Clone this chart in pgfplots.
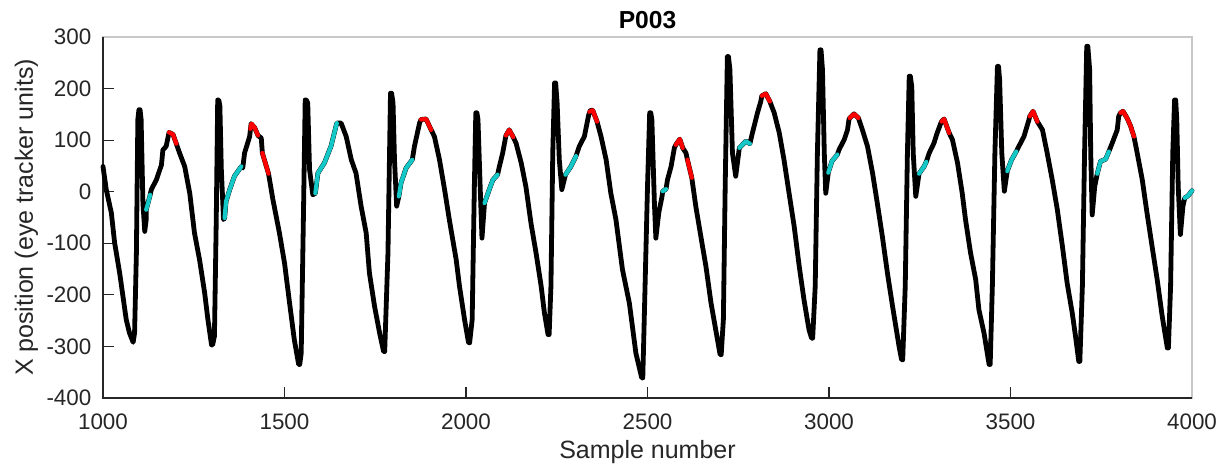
\documentclass[border=0pt]{standalone}
\usepackage{pgfplots}
\pgfplotsset{compat=1.18}
\usepackage{fontspec}
\setmainfont{Liberation Sans}
\definecolor{axdark}{RGB}{38,38,38}
\definecolor{axlight}{RGB}{200,200,200}
\definecolor{mcyan}{RGB}{20,200,200}
\definecolor{mred}{RGB}{255,0,0}
\begin{document}
\begin{tikzpicture}
\begin{axis}[
  scale only axis, width=544.5pt, height=180.5pt,
  xmin=1000, xmax=4000, ymin=-400, ymax=300,
  xtick={1000,1500,...,4000}, ytick={-400,-300,...,300},
  tick pos=left, tick align=inside, major tick length=5.5pt,
  tick style={color=axdark, line width=0.6pt},
  axis line style={draw=axlight, line width=0.6pt},
  scaled ticks=false,
  /pgf/number format/assume math mode=true,
  /pgf/number format/1000 sep={},
  xticklabel style={font=\fontsize{11.2}{13}\selectfont, text=axdark, anchor=base, yshift=-16pt},
  yticklabel style={font=\fontsize{11.2}{13}\selectfont, text=axdark, xshift=-2.3pt},
  xlabel={Sample number}, ylabel={X position (eye tracker units)},
  xlabel style={font=\fontsize{12.5}{14}\selectfont, text=axdark, at={(axis description cs:0.5,-0.1679)}, anchor=base},
  ylabel style={font=\fontsize{12.5}{14}\selectfont, text=axdark, at={(axis description cs:-0.0643,0.5)}, anchor=base},
  title={P003},
  every axis title shift=0pt,
  title style={font=\fontsize{12.3}{14}\selectfont\bfseries, at={(axis description cs:0.5,1.0222)}, anchor=base, yshift=0pt},
  clip=false, unbounded coords=jump,
]
\coordinate (sw) at (rel axis cs:0,0);
\coordinate (ne) at (rel axis cs:1,1);
\draw[axdark, line width=0.6pt] (rel axis cs:0,1) -- (rel axis cs:0,0) -- (rel axis cs:1,0);
\addplot[black, line width=2.4pt, line join=round, line cap=round] coordinates {
(1000,49) (1009,4) (1023,-41) (1032,-99) (1046,-158) (1055,-203) (1064,-248) (1073,-274) (1083,-292) (1087,-274)
(1092,-119) (1096,140) (1099,159) (1102,159) (1105,140) (1110,-22) (1115,-77) (1119,-54) (1119,-35) (1130,-6)
(1133,4) (1147,23) (1161,52) (1165,81) (1174,88) (1182,115) (1193,111) (1202,93) (1211,75) (1225,49)
(1239,-3) (1252,-80) (1266,-132) (1280,-196) (1289,-248) (1299,-297) (1302,-297) (1307,-280) (1312,-54) (1316,178) (1319,178)
(1322,166) (1326,43) (1332,-54) (1335,-51) (1339,-19) (1349,4) (1362,30) (1381,49) (1385,46) (1390,75)
(1404,107) (1408,132) (1418,124) (1427,109) (1436,104) (1439,75) (1456,35) (1468,-15) (1486,-80) (1500,-138)
(1514,-216) (1527,-287) (1539,-335) (1542,-335) (1546,-313) (1552,-54) (1557,178) (1560,178) (1564,172) (1569,43) (1578,-6)
(1585,-3) (1592,36) (1610,56) (1628,88) (1644,133) (1656,133) (1670,107) (1684,62) (1697,36) (1711,-28)
(1725,-80) (1734,-158) (1748,-222) (1762,-274) (1773,-310) (1776,-310) (1785,-119) (1792,191) (1795,191) (1799,172) (1803,62)
(1809,-28) (1815,-9) (1821,17) (1835,46) (1852,62) (1858,88) (1872,133) (1876,140) (1890,141) (1904,120)
(1913,107) (1927,62) (1941,4) (1954,-54) (1973,-132) (1982,-183) (1996,-248) (2007,-293) (2010,-293) (2017,-248)
(2023,10) (2027,153) (2030,153) (2033,140) (2039,10) (2044,-90) (2051,-22) (2064,4) (2074,23) (2087,33)
(2092,49) (2101,75) (2110,109) (2119,120) (2130,106) (2138,94) (2152,56) (2165,10) (2179,-61) (2193,-119)
(2207,-183) (2216,-235) (2226,-277) (2229,-277) (2234,-183) (2239,75) (2244,211) (2247,211) (2251,172) (2257,62) (2264,4)
(2274,33) (2289,49) (2303,69) (2312,88) (2326,107) (2338,149) (2343,158) (2349,158) (2361,136) (2372,107)
(2386,62) (2399,-3) (2413,-54) (2431,-151) (2450,-216) (2468,-313) (2484,-361) (2487,-361) (2491,-248) (2500,10)
(2506,153) (2509,153) (2512,140) (2519,-22) (2523,-90) (2531,-41) (2540,-9) (2542,1) (2551,5) (2555,23) (2565,49)
(2574,85) (2578,91) (2589,102) (2597,85) (2606,75) (2610,62) (2622,27) (2633,-28) (2647,-87) (2661,-145)
(2675,-216) (2688,-268) (2700,-316) (2703,-316) (2709,-248) (2714,10) (2720,262) (2723,262) (2727,237) (2734,75) (2743,30)
(2753,85) (2771,98) (2782,93) (2789,114) (2803,153) (2812,175) (2815,186) (2826,190) (2837,175) (2849,153)
(2863,114) (2876,62) (2890,-3) (2904,-67) (2918,-145) (2931,-209) (2945,-268) (2952,-284) (2955,-284) (2962,-183)
(2968,75) (2975,275) (2978,275) (2982,237) (2987,75) (2991,-3) (2998,37) (3008,59) (3023,72) (3028,82) (3042,101)
(3051,120) (3055,140) (3057,143) (3069,151) (3081,143) (3092,120) (3106,88) (3120,36) (3133,-22) (3147,-87)
(3161,-158) (3175,-222) (3193,-300) (3200,-326) (3203,-326) (3210,-183) (3216,75) (3221,224) (3224,224) (3228,204) (3232,75)
(3239,-9) (3248,35) (3262,49) (3268,58) (3276,75) (3289,94) (3298,114) (3308,133) (3310,136) (3317,141)
(3331,114) (3340,101) (3354,56) (3367,-3) (3376,-54) (3390,-119) (3404,-170) (3413,-229) (3427,-274) (3441,-335) (3444,-335)
(3450,-183) (3457,75) (3464,243) (3467,243) (3470,217) (3476,75) (3483,1) (3491,40) (3503,62) (3516,78) (3523,88)
(3537,107) (3551,140) (3553,146) (3562,156) (3574,136) (3588,120) (3601,75) (3615,23) (3629,-35) (3643,-106)
(3656,-177) (3670,-235) (3679,-280) (3688,-329) (3691,-329) (3698,-183) (3704,75) (3710,282) (3713,282) (3718,237) (3721,75)
(3725,-45) (3732,10) (3739,35) (3748,59) (3762,63) (3771,78) (3780,94) (3794,120) (3798,146) (3803,153)
(3810,156) (3821,143) (3831,127) (3840,107) (3849,75) (3863,23) (3876,-41) (3890,-106) (3904,-170) (3918,-242)
(3932,-303) (3935,-303) (3941,-183) (3947,75) (3952,178) (3955,178) (3958,140) (3962,10) (3968,-83) (3975,-28) (3980,-12)
(3989,-8) (4000,2)
};
\addplot[mcyan, line width=2.1pt, line join=round, line cap=round] coordinates {
(1119,-35) (1125,-20) (1130,-6) (nan,nan)
(1335,-51) (1339,-19) (1349,4) (1362,30) (1381,49) (nan,nan)
(1585,-3) (1592,36) (1610,56) (1628,88) (1644,133) (nan,nan)
(1815,-9) (1821,17) (1835,46) (1852,62) (nan,nan)
(2051,-22) (2064,4) (2074,23) (2087,33) (nan,nan)
(2274,33) (2289,49) (2303,69) (nan,nan)
(2542,1) (2551,5) (nan,nan)
(2753,85) (2771,98) (2782,93) (nan,nan)
(2998,37) (3008,59) (3023,72) (nan,nan)
(3248,35) (3262,49) (3268,58) (nan,nan)
(3491,40) (3503,62) (3516,78) (nan,nan)
(3739,35) (3748,59) (3762,63) (3771,78) (nan,nan)
(3980,-12) (3989,-8) (4000,2)
};
\addplot[mred, line width=2.1pt, line join=round, line cap=round] coordinates {
(1182,115) (1193,111) (1202,93) (nan,nan)
(1406,122) (1409,132) (1418,124) (1427,109) (nan,nan)
(1439,75) (1456,35) (nan,nan)
(1876,140) (1890,141) (1904,120) (nan,nan)
(2110,109) (2119,120) (2130,106) (nan,nan)
(2340,155) (2349,158) (2361,136) (nan,nan)
(2578,91) (2589,102) (2597,85) (nan,nan)
(2610,62) (2622,27) (nan,nan)
(2815,186) (2826,190) (2837,175) (nan,nan)
(3057,143) (3069,151) (3081,143) (nan,nan)
(3310,136) (3317,141) (3331,114) (nan,nan)
(3553,146) (3562,156) (3574,136) (nan,nan)
(3803,153) (3810,156) (3821,143) (3831,127) (3840,107)
};
\end{axis}
\pgfresetboundingbox
\path[use as bounding box] ([shift={(-51.5pt,-35pt)}]sw) rectangle ([shift={(18pt,18.5pt)}]ne);
\end{tikzpicture}
\end{document}
